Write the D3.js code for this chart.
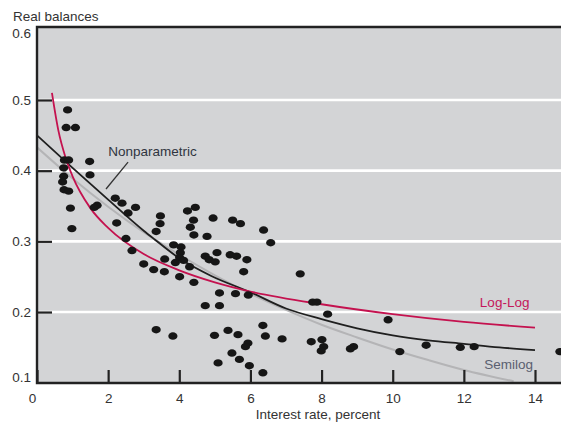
<!DOCTYPE html>
<html>
<head>
<meta charset="utf-8">
<script src="https://cdn.jsdelivr.net/npm/d3@7"></script>
<style>
    body { margin: 0; background: #fff; }
    svg text { font-family: "Liberation Sans", Arial, sans-serif; }
</style>
</head>
<body>
<div id="chart"></div>
<script>
// observations: interest rate (percent) vs real balances
const rates = [0.86, 0.82, 1.08, 0.77, 0.89, 1.48, 0.75, 0.75, 0.72, 0.76, 0.89, 1.49, 0.94, 0.98,
    2.20, 2.39, 1.69, 1.61, 2.77, 2.56, 2.24, 3.47, 3.46, 3.35, 4.23, 4.45, 4.40, 4.31, 4.41, 4.95,
    5.50, 5.72, 6.37, 2.50, 4.78, 6.57, 2.67, 3.00, 3.28, 3.58, 3.59, 3.84, 4.05, 4.03, 4.01, 3.89,
    4.12, 4.29, 4.01, 4.41, 4.73, 4.84, 5.06, 5.01, 5.43, 5.61, 5.90, 5.81, 7.40, 5.13, 5.58, 5.94,
    4.73, 5.13, 7.75, 7.87, 8.17, 9.87, 3.35, 3.82, 4.99, 5.37, 5.65, 6.35, 6.42, 6.89, 5.93, 5.86,
    7.71, 8.01, 8.06, 7.99, 8.90, 8.81, 5.48, 5.69, 5.09, 5.97, 6.35, 10.20, 10.94, 11.90, 12.29, 14.70];
const balances = [0.486, 0.461, 0.461, 0.415, 0.415, 0.413, 0.404, 0.392, 0.384, 0.373, 0.371, 0.394, 0.347, 0.318,
    0.361, 0.354, 0.351, 0.348, 0.348, 0.340, 0.326, 0.336, 0.325, 0.314, 0.343, 0.348, 0.330, 0.320, 0.309, 0.333,
    0.330, 0.325, 0.316, 0.304, 0.307, 0.298, 0.287, 0.268, 0.260, 0.257, 0.275, 0.295, 0.292, 0.284, 0.277, 0.270,
    0.273, 0.264, 0.250, 0.242, 0.279, 0.274, 0.284, 0.271, 0.281, 0.279, 0.274, 0.257, 0.254, 0.227, 0.226, 0.224,
    0.209, 0.209, 0.214, 0.214, 0.197, 0.189, 0.175, 0.166, 0.167, 0.174, 0.168, 0.181, 0.166, 0.162, 0.156, 0.151,
    0.158, 0.161, 0.151, 0.145, 0.151, 0.148, 0.142, 0.133, 0.128, 0.124, 0.114, 0.144, 0.153, 0.150, 0.151, 0.144];

// fitted curves
const logLogRates = [0.42, 0.6, 0.8, 1, 1.5, 2, 3, 4, 5, 6, 8, 10, 12, 14];
const logLogValues = [0.51, 0.457, 0.419, 0.392, 0.347, 0.319, 0.282, 0.259, 0.242, 0.229, 0.211, 0.197, 0.186, 0.178];

const semilogRates = [0, 1, 2, 3, 4, 5, 6, 7, 8, 9, 10, 11, 12, 13.4];
const semilogValues = [0.433, 0.389, 0.349, 0.313, 0.281, 0.252, 0.226, 0.203, 0.182, 0.164, 0.147, 0.132, 0.118, 0.102];

const nonparRates = [0, 1, 2, 3, 3.3, 4, 4.9, 6, 7, 8, 9, 10, 11, 12, 13, 14];
const nonparValues = [0.45, 0.404, 0.359, 0.315, 0.303, 0.276, 0.251, 0.228, 0.205, 0.19, 0.177, 0.167, 0.16, 0.155, 0.15, 0.146];

const xTicks = [0, 2, 4, 6, 8, 10, 12, 14];
const yTicks = [0.1, 0.2, 0.3, 0.4, 0.5, 0.6];
const gridTicks = [0.2, 0.3, 0.4, 0.5];

const W = 561, H = 426;
const plot = {left: 37, top: 27, right: 561, bottom: 383};

const svg = d3.select("#chart").append("svg")
    .attr("width", W)
    .attr("height", H);

const x = d3.scaleLinear().domain([0, 14]).range([37, 535]);
const y = d3.scaleLinear().domain([0.1, 0.6]).range([382.7, 29.3]);

// background
svg.append("rect")
    .attr("x", plot.left).attr("y", plot.top)
    .attr("width", plot.right - plot.left).attr("height", plot.bottom - plot.top)
    .attr("fill", "#d3d4d6");

svg.append("defs").append("clipPath").attr("id", "clip")
    .append("rect")
    .attr("x", plot.left).attr("y", plot.top)
    .attr("width", plot.right - plot.left).attr("height", plot.bottom - plot.top);

// white gridlines
svg.append("g").selectAll("line")
    .data(gridTicks)
    .join("line")
    .attr("x1", plot.left).attr("x2", plot.right)
    .attr("y1", d => y(d)).attr("y2", d => y(d))
    .attr("stroke", "#fff")
    .attr("stroke-width", 2.6);

// curves
const g = svg.append("g").attr("clip-path", "url(#clip)");
const line = d3.line().x(d => x(d[0])).y(d => y(d[1])).curve(d3.curveMonotoneX);

g.append("path")
    .datum(d3.zip(semilogRates, semilogValues))
    .attr("d", line)
    .attr("fill", "none").attr("stroke", "#b4b4b6").attr("stroke-width", 2);

g.append("path")
    .datum(d3.zip(nonparRates, nonparValues))
    .attr("d", line)
    .attr("fill", "none").attr("stroke", "#1f1f1f").attr("stroke-width", 1.8);

g.append("path")
    .datum(d3.zip(logLogRates, logLogValues))
    .attr("d", line)
    .attr("fill", "none").attr("stroke", "#c4124f").attr("stroke-width", 1.8);

// dots
g.append("g").selectAll("ellipse")
    .data(d3.zip(rates, balances))
    .join("ellipse")
    .attr("cx", d => x(d[0]))
    .attr("cy", d => y(d[1]))
    .attr("rx", 4.6)
    .attr("ry", 3.7)
    .attr("fill", "#161616");

// leader line for Nonparametric
svg.append("line")
    .attr("x1", x(2.56)).attr("y1", y(0.412))
    .attr("x2", x(1.94)).attr("y2", y(0.374))
    .attr("stroke", "#333").attr("stroke-width", 1.3);

// axes, ticks pointing inward
const xAxis = svg.append("g")
    .attr("transform", "translate(0," + plot.bottom + ")")
    .call(d3.axisBottom(x).tickValues(xTicks).tickSize(-13).tickPadding(10));
xAxis.select(".domain").remove();
xAxis.selectAll(".tick line").attr("stroke", "#222").attr("stroke-width", 2.2);
xAxis.selectAll(".tick text")
    .attr("fill", "#333").style("font-size", "13.5px")
    .attr("dx", d => d === 0 ? -5 : 0);

const yAxis = svg.append("g")
    .attr("transform", "translate(" + plot.left + ",0)")
    .call(d3.axisLeft(y).tickValues(yTicks).tickSize(-15).tickPadding(6).tickFormat(d3.format(".1f")));
yAxis.select(".domain").remove();
yAxis.selectAll(".tick line").attr("stroke", "#222").attr("stroke-width", 2.2)
    .attr("display", d => (d === 0.1 || d === 0.6) ? "none" : null);
yAxis.selectAll(".tick text")
    .attr("fill", "#333").style("font-size", "13.5px")
    .attr("dy", d => d === 0.1 ? "-0.12em" : d === 0.6 ? "0.62em" : "0.32em");

// frame
svg.append("path")
    .attr("d", "M" + plot.right + "," + plot.top + "H" + plot.left + "V" + plot.bottom + "H" + plot.right)
    .attr("fill", "none").attr("stroke", "#222").attr("stroke-width", 2.4);

// labels
svg.append("text").attr("x", 13).attr("y", 21)
    .attr("fill", "#333").style("font-size", "13.5px")
    .text("Real balances");

svg.append("text").attr("x", (plot.left + 535) / 2 + 32).attr("y", 419)
    .attr("text-anchor", "middle")
    .attr("fill", "#333").style("font-size", "13.5px")
    .text("Interest rate, percent");

svg.append("text").attr("x", x(2.0)).attr("y", y(0.421))
    .attr("fill", "#2f3440").style("font-size", "13.5px")
    .text("Nonparametric");

svg.append("text").attr("x", x(12.45)).attr("y", y(0.207))
    .attr("fill", "#c4165a").style("font-size", "13.5px")
    .text("Log-Log");

svg.append("text").attr("x", x(12.57)).attr("y", y(0.12))
    .attr("fill", "#5a6070").style("font-size", "13.5px")
    .text("Semilog");
</script>
</body>
</html>
